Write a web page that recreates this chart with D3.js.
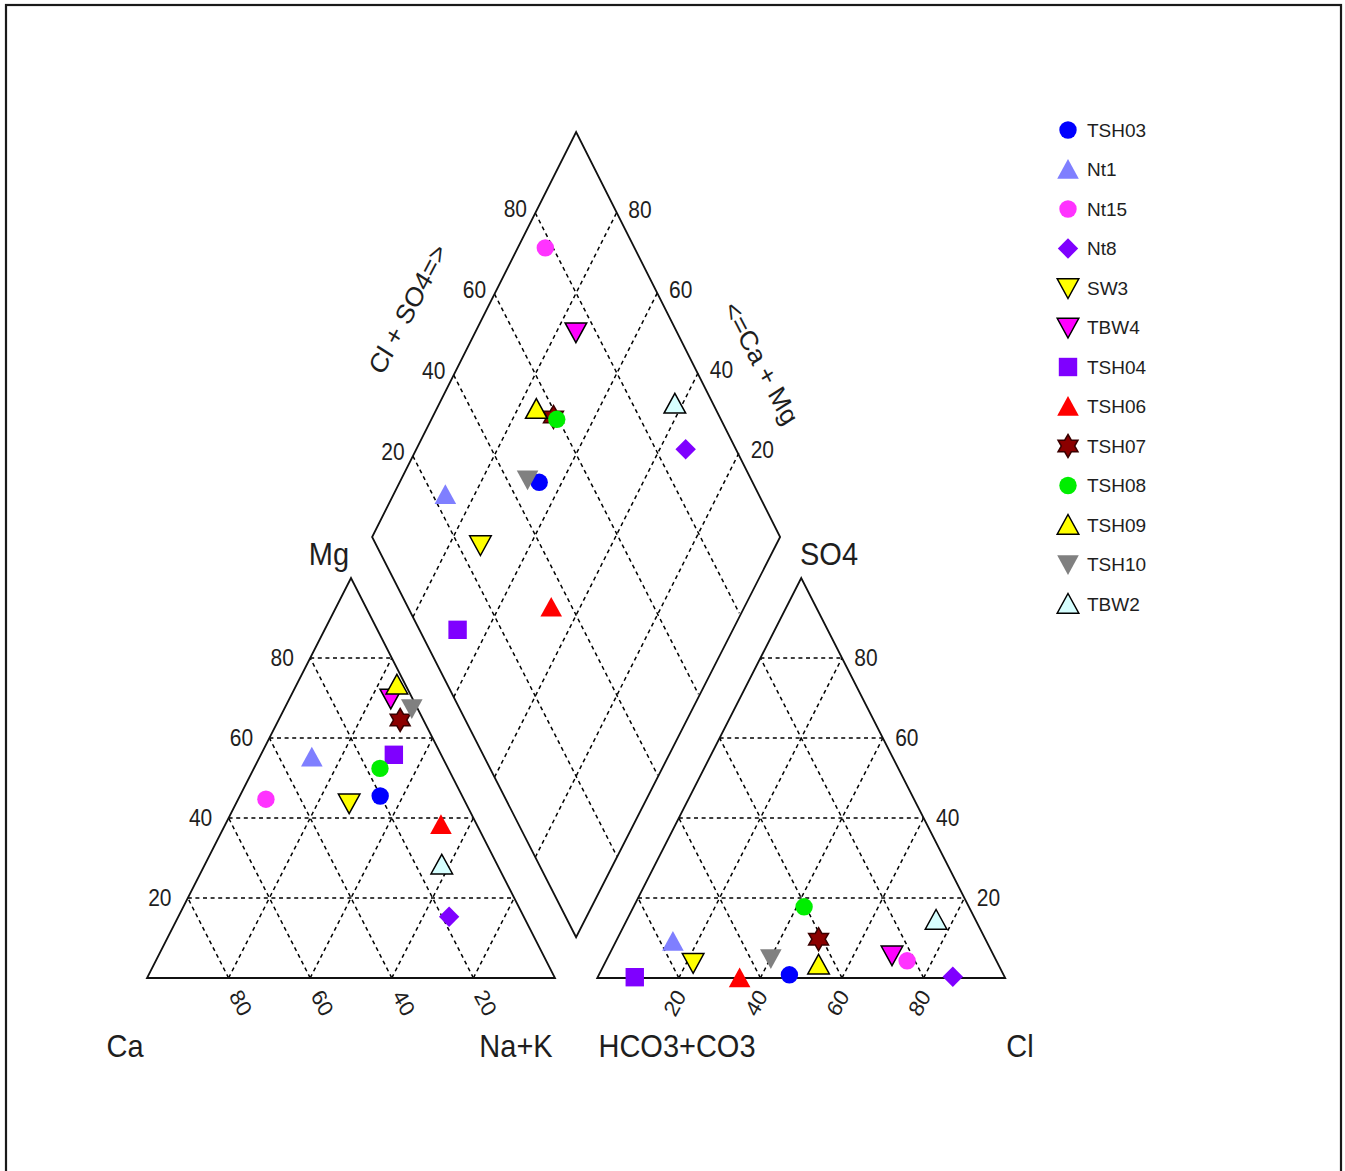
<!DOCTYPE html>
<html><head><meta charset="utf-8">
<script src="https://cdn.jsdelivr.net/npm/d3@7"></script>
<style>
body{margin:0;background:#fff}
svg{display:block}
text{font-family:"Liberation Sans",Arial,sans-serif;fill:#1e1e1e}
</style>
</head><body>
<svg id="c" width="1345" height="1171"></svg>
<script>
// ---------------- DATA (percent of meq) ----------------
const samples = ["TSH03","Nt1","Nt15","Nt8","SW3","TBW4","TSH04","TSH06","TSH07","TSH08","TSH09","TSH10","TBW2"];
const Ca   = [20.1, 32.0, 48.5, 18.3, 28.6,  5.3, 11.6,  8.8,  5.7, 16.7,  2.1,  1.4, 13.6];
const Mg   = [45.5, 55.2, 44.7, 15.3, 43.7, 69.9, 55.8, 38.3, 64.5, 52.4, 73.3, 67.4, 28.3];
const NaK  = [34.4, 12.8,  6.8, 66.4, 27.7, 24.8, 32.6, 52.9, 29.8, 30.9, 24.6, 31.2, 58.1];
const HCO3 = [52.5, 76.9, 21.9, 12.7, 74.6, 24.9, 90.7, 65.1, 40.9, 40.4, 44.1, 55.0,  9.7];
const SO4  = [ 0.8,  9.1,  4.3,  0.3,  3.8,  5.7,  0.2,  0.0,  9.7, 17.8,  3.3,  4.9, 14.5];
const Cl   = [46.7, 14.0, 73.8, 87.0, 21.6, 69.4,  9.1, 34.9, 49.4, 41.8, 52.6, 40.1, 75.8];
const gridTicks = [20, 40, 60, 80];

// ---------------- STYLES ----------------
const shapes  = ["circle","triangle","circle","diamond","triangleDown","triangleDown","square","triangle","star","circle","triangle","triangleDown","triangle"];
const fills   = ["#0000ff","#7f7fff","#ff33ff","#7f00ff","#ffff00","#ff00ff","#7f00ff","#ff0000","#8b0000","#00ee00","#ffff00","#808080","#d6ffff"];
const strokes = [null,null,null,null,"#000","#000",null,null,"#3a0000",null,"#000",null,"#000"];

const svg = d3.select("#c");
// unit coordinates: 1 unit in x = triangle side, 1 unit in y = triangle height
const x = d3.scaleLinear().domain([0, 1]).range([147, 555]);
const y = d3.scaleLinear().domain([0, 1]).range([978, 578]);
const gap = 0.1035, off = 1 + gap;
const D = {B:[1+gap/2, 0.1018], L:[0.5+gap/2, 1.1025], R:[1.5+gap/2, 1.1025], T:[1+gap/2, 2.115]};
const px = p => [x(p[0]), y(p[1])];
const add = (a,b,k=1) => [a[0]+k*b[0], a[1]+k*b[1]];
const sub = (a,b) => [a[0]-b[0], a[1]-b[1]];
const BL = sub(D.B, D.L), TL = sub(D.T, D.L);

// border
svg.append("rect").attr("x",6).attr("y",5).attr("width",1335).attr("height",1300)
  .attr("fill","none").attr("stroke","#1a1a1a").attr("stroke-width",2.2);

const line = d3.line().x(d=>x(d[0])).y(d=>y(d[1]));
const gGrid = svg.append("g").attr("fill","none").attr("stroke","#000").attr("stroke-width",1.5).attr("stroke-dasharray","4,3.6");
const gridSeg = (a,b) => gGrid.append("path").attr("d", line([a,b]));

// grids in triangles
gridTicks.forEach(v => {
  const t = v/100;
  // left triangle
  gridSeg([t/2, t], [1 - t/2, t]);              // Mg
  gridSeg([1 - t, 0], [(1 - t)/2, 1 - t]);      // Ca
  gridSeg([t, 0], [t + (1 - t)/2, 1 - t]);      // Na+K
  // right triangle
  gridSeg([off + t/2, t], [off + 1 - t/2, t]);  // SO4
  gridSeg([off + t, 0], [off + t + (1 - t)/2, 1 - t]); // Cl
  gridSeg([off + 1 - t, 0], [off + (1 - t)/2, 1 - t]); // HCO3
  // diamond
  const a = add(D.L, BL, t); gridSeg(a, add(a, TL));
  const b = add(D.L, TL, t); gridSeg(b, add(b, BL));
});

// outlines
const gOut = svg.append("g").attr("fill","none").attr("stroke","#111").attr("stroke-width",1.8).attr("stroke-linejoin","miter");
gOut.append("path").attr("d", line([[0,0],[1,0],[0.5,1]]) + "Z");
gOut.append("path").attr("d", line([[off,0],[off+1,0],[off+0.5,1]]) + "Z");
gOut.append("path").attr("d", line([D.B, D.L, D.T, D.R]) + "Z");

// text helper (image is slightly stretched vertically)
function txt(str, X, Y, size, rot=0, anchor="middle"){
  return svg.append("text").text(str)
    .attr("transform", `translate(${X},${Y}) scale(1,1.1) rotate(${rot})`)
    .attr("text-anchor", anchor).attr("dominant-baseline","central")
    .attr("font-size", size);
}

// tick labels
gridTicks.forEach(v => {
  const t = v/100;
  let p = px([t/2, t]);                txt(v, p[0]-28, p[1], 21);           // Mg (left edge)
  p = px([off + 1 - t/2, t]);          txt(v, p[0]+24, p[1], 21);           // SO4 (right edge)
  p = px([1 - t, 0]);                  txt(v, p[0]+12, p[1]+25, 21, 60);    // Ca (bottom)
  p = px([off + t, 0]);                txt(v, p[0]-4,  p[1]+25, 21, -60);   // Cl (bottom)
  p = px(add(D.L, TL, t));             txt(v, p[0]-20, p[1]-4, 21);         // Cl+SO4
  p = px(add(D.T, BL, 1 - t));         txt(v, p[0]+23, p[1]-2, 21);         // Ca+Mg
});

// axis titles
txt("Mg", 329, 553, 29);
txt("SO4", 829, 553, 29);
txt("Ca", 125, 1045, 29);
txt("Na+K", 516, 1045, 29);
txt("HCO3+CO3", 677, 1045, 29);
txt("Cl", 1020, 1045, 29);
txt("Cl + SO4=>", 408, 309, 25, -60);
txt("<=Ca + Mg", 761, 363, 25, 60);

// symbols
function star(ro){
  const ri = ro/Math.sqrt(3); let s = "";
  for(let k=0;k<12;k++){
    const r = k%2===0 ? ro : ri, a = -Math.PI/2 + k*Math.PI/6;
    s += (k===0?"M":"L") + (r*Math.cos(a)).toFixed(2) + "," + (r*Math.sin(a)).toFixed(2);
  }
  return s + "Z";
}
const symbolPaths = {
  circle: "M8.7,0A8.7,8.7 0 1,1 -8.7,0A8.7,8.7 0 1,1 8.7,0Z",
  triangle: "M0,-10.5L10.8,9.2L-10.8,9.2Z",
  triangleDown: "M0,10.5L10.8,-9.2L-10.8,-9.2Z",
  square: "M-9.2,-9.2h18.4v18.4h-18.4Z",
  diamond: "M0,-10.2L10.2,0L0,10.2L-10.2,0Z",
  star: star(11.5)
};
function mark(g, i, X, Y){
  g.append("path").attr("d", symbolPaths[shapes[i]])
    .attr("transform", `translate(${X},${Y})`)
    .attr("fill", fills[i])
    .attr("stroke", strokes[i] || "none")
    .attr("stroke-width", strokes[i] ? 1.5 : 0);
}

const gPts = svg.append("g");
samples.forEach((s, i) => {
  // cation triangle
  const pc = px([(NaK[i] + Mg[i]/2)/100, Mg[i]/100]);
  mark(gPts, i, pc[0], pc[1]);
  // anion triangle
  const pa = px([off + (Cl[i] + SO4[i]/2)/100, SO4[i]/100]);
  mark(gPts, i, pa[0], pa[1]);
  // diamond
  const n = NaK[i]/100, a = (Cl[i] + SO4[i])/100;
  const pd = px(add(add(D.L, BL, n), TL, a));
  mark(gPts, i, pd[0], pd[1]);
});

// legend
const gLeg = svg.append("g");
samples.forEach((s, i) => {
  const Y = 130 + i*39.5;
  mark(gLeg, i, 1068, Y);
  gLeg.append("text").text(s).attr("x",1087).attr("y",Y)
    .attr("dominant-baseline","central").attr("font-size",19);
});
</script>
</body></html>
